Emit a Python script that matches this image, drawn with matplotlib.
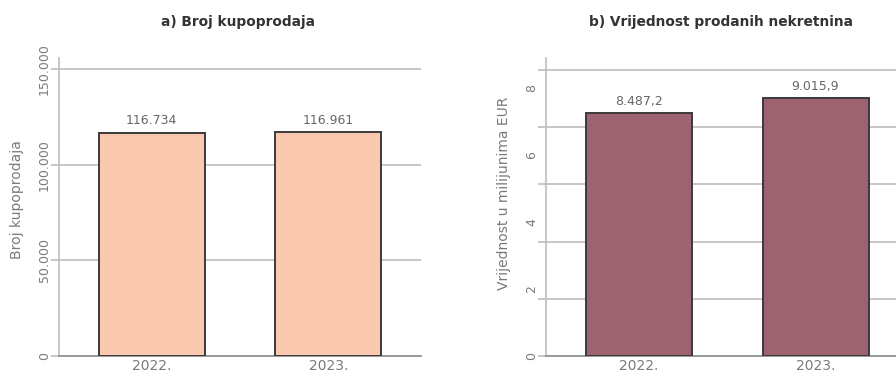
import matplotlib
matplotlib.use("Agg")
import matplotlib.pyplot as plt

years = ["2022.", "2023."]
broj = [116734, 116961]
broj_labels = ["116.734", "116.961"]
vrijednost = [8487.2, 9015.9]
vrijednost_labels = ["8.487,2", "9.015,9"]
left_ticks = [0, 50000, 100000, 150000]
left_ticklabels = ["0", "50.000", "100.000", "150.000"]
right_grid = [0, 2000, 4000, 6000, 8000, 10000]
right_ticklabels = [0, 2, 4, 6, 8]

plt.rcParams['font.family'] = ['DejaVu Sans']

W, H = 896, 372
fig = plt.figure(figsize=(W / 100, H / 100), dpi=100)

grid_c = "#bdbdbd"
tick_c = "#7a7a7a"
title_c = "#333333"

def px(x0, y0, x1, y1):
    return [x0 / W, 1 - y1 / H, (x1 - x0) / W, (y1 - y0) / H]

ax1 = fig.add_axes(px(59.3, 58.3, 420.7, 356))
ax2 = fig.add_axes(px(546.3, 58.3, 908, 356))

def style(ax):
    for s in ["top", "right"]:
        ax.spines[s].set_visible(False)
    ax.spines["left"].set_color(grid_c)
    ax.spines["left"].set_linewidth(1.2)
    ax.spines["bottom"].set_color("#9a9a9a")
    ax.spines["bottom"].set_linewidth(1.4)
    ax.set_axisbelow(True)
    ax.grid(axis="y", color=grid_c, linewidth=1.2)
    ax.tick_params(axis="x", length=0, pad=2, labelsize=10, labelcolor=tick_c)
    ax.set_xlim(-0.523, 1.523)

# Left panel
x = range(len(years))
ax1.bar(x, broj, width=0.6, color="#f9c8ae", edgecolor="#3a3a3a", linewidth=1.4, zorder=3)
style(ax1)
ax1.set_ylim(0, 155700)
ax1.set_yticks(left_ticks, left_ticklabels)
ax1.tick_params(axis="y", length=6, width=1.2, color=grid_c, pad=0, labelsize=9,
                labelcolor=tick_c, labelrotation=90)
for lab in ax1.get_yticklabels():
    lab.set_va("center")
ax1.set_xticks(list(x), years)
for xi, v, t in zip(x, broj, broj_labels):
    ax1.annotate(t, (xi, v), xytext=(0, 4), textcoords="offset points",
                 ha="center", va="bottom", fontsize=9, color="#666666")
ax1.set_ylabel("Broj kupoprodaja", fontsize=10, color=tick_c)
ax1.yaxis.set_label_coords(-0.0976, 0.524)
fig.text(238.3 / W, 1 - 21.7 / H, "a) Broj kupoprodaja", fontsize=9.9,
         fontweight="bold", color=title_c, ha="center", va="center")

# Right panel
ax2.bar(x, vrijednost, width=0.6, color="#9e6370", edgecolor="#3a3a3a", linewidth=1.4, zorder=3)
style(ax2)
ax2.set_ylim(0, 10409)
ax2.set_yticks(right_grid)
ax2.set_yticklabels([])
ax2.tick_params(axis="y", length=6, width=1.2, color=grid_c, pad=2)
ax2.set_xticks(list(x), years)
factor = 1172.5
sec = ax2.secondary_yaxis("left", functions=(lambda y: y / factor, lambda y: y * factor))
sec.set_yticks(right_ticklabels)
sec.spines["left"].set_visible(False)
sec.tick_params(axis="y", length=0, pad=6, labelsize=9, labelcolor=tick_c, labelrotation=90)
for lab in sec.get_yticklabels():
    lab.set_va("center")
ax2.set_ylabel("Vrijednost u milijunima EUR", fontsize=10, color=tick_c)
ax2.yaxis.set_label_coords(-0.0976, 0.5475)
for xi, v, t in zip(x, vrijednost, vrijednost_labels):
    ax2.annotate(t, (xi, v), xytext=(0, 4), textcoords="offset points",
                 ha="center", va="bottom", fontsize=9, color="#666666")
fig.text(721.3 / W, 1 - 21.7 / H, "b) Vrijednost prodanih nekretnina", fontsize=9.9,
         fontweight="bold", color=title_c, ha="center", va="center")

fig.savefig("out.png", dpi=100)
